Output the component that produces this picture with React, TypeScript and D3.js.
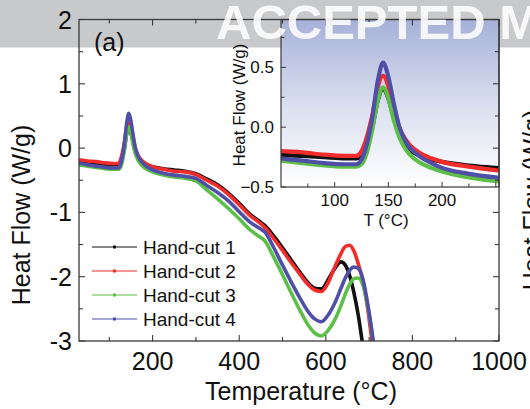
import * as d3 from "d3";

const temps = [30, 50, 70, 90, 110, 120, 125, 130, 135, 140, 145, 150, 155, 160, 165, 170, 180, 190, 200, 225, 250, 275, 300, 325, 350, 375, 400, 425, 445, 460, 480, 500, 520, 540, 560, 575, 590, 605, 620, 635, 645, 655, 665, 675, 685, 695, 705, 715];

const handCut1 = [-0.21, -0.23, -0.24, -0.25, -0.26, -0.26, -0.24, -0.15, 0.0, 0.22,
  0.32, 0.24, 0.08, -0.06, -0.14, -0.19, -0.24, -0.27, -0.29, -0.32,
  -0.34, -0.36, -0.40, -0.48, -0.57, -0.70, -0.86, -1.03, -1.13, -1.21,
  -1.37, -1.55, -1.74, -1.93, -2.10, -2.18, -2.19, -2.05, -1.88, -1.77,
  -1.82, -1.98, -2.25, -2.60, -3.05, -3.5, -3.6, -3.7];
const handCut2 = [-0.18, -0.20, -0.21, -0.23, -0.24, -0.24, -0.20, -0.08, 0.10, 0.33,
  0.43, 0.34, 0.16, 0.0, -0.09, -0.15, -0.22, -0.26, -0.29, -0.33,
  -0.36, -0.37, -0.41, -0.50, -0.59, -0.72, -0.88, -1.05, -1.15, -1.24,
  -1.41, -1.59, -1.78, -1.96, -2.13, -2.21, -2.23, -2.10, -1.86, -1.64,
  -1.53, -1.51, -1.60, -1.80, -2.05, -2.42, -2.92, -3.5];
const handCut3 = [-0.26, -0.28, -0.30, -0.32, -0.33, -0.33, -0.31, -0.21, -0.02, 0.22,
  0.33, 0.24, 0.06, -0.08, -0.17, -0.23, -0.30, -0.34, -0.37, -0.42,
  -0.45, -0.47, -0.51, -0.65, -0.79, -0.94, -1.10, -1.27, -1.37, -1.45,
  -1.70, -1.97, -2.25, -2.52, -2.76, -2.88, -2.92, -2.84, -2.68, -2.45,
  -2.27, -2.12, -2.03, -2.02, -2.12, -2.40, -2.80, -3.3];
const handCut4 = [-0.23, -0.26, -0.28, -0.30, -0.31, -0.31, -0.27, -0.14, 0.08, 0.38,
  0.54, 0.42, 0.20, 0.01, -0.10, -0.17, -0.25, -0.30, -0.34, -0.39,
  -0.42, -0.44, -0.47, -0.58, -0.69, -0.82, -0.99, -1.15, -1.24, -1.31,
  -1.55, -1.82, -2.08, -2.33, -2.55, -2.66, -2.70, -2.60, -2.42, -2.18,
  -2.02, -1.90, -1.85, -1.87, -2.02, -2.35, -2.78, -3.3];

const seriesNames = ["Hand-cut 1", "Hand-cut 2", "Hand-cut 3", "Hand-cut 4"];
const seriesColors = ["#111111", "#f22b2b", "#5dbf48", "#4f4fa8"];
const seriesValues = [handCut1, handCut2, handCut3, handCut4];
const drawOrder = [0, 1, 2, 3];

const xTicks = [200, 400, 600, 800, 1000];
const yTicks = [-3, -2, -1, 0, 1, 2];
const insetXTicks = [100, 150, 200];
const insetYTicks = [-0.5, 0.0, 0.5];

const FONT = "'Liberation Sans', Arial, Helvetica, sans-serif";

export default function App() {
  const x = d3.scaleLinear().domain([30, 1000]).range([79, 499]);
  const y = d3.scaleLinear().domain([-3, 2]).range([341, 19.5]);
  const ix = d3.scaleLinear().domain([50, 253]).range([281, 499]);
  const iy = d3.scaleLinear().domain([-0.5, 0.9]).range([187, 19.5]);

  const [x0, x1] = x.range();
  const [y0, y1] = y.range();
  const [ix0, ix1] = ix.range();
  const [iy0, iy1] = iy.range();

  const rows = (vals: number[]) => temps.map((t, i) => [t, vals[i]] as [number, number]);

  const line = d3.line<[number, number]>()
    .x(d => x(d[0]))
    .y(d => y(d[1]))
    .curve(d3.curveMonotoneX);
  const insetLine = d3.line<[number, number]>()
    .x(d => ix(d[0]))
    .y(d => iy(d[1]))
    .curve(d3.curveMonotoneX);

  const xMinor = d3.range(100, 1001, 100);
  const yMinor = d3.range(-3, 2.01, 0.5);
  const ixMinor = d3.range(75, 251, 25);
  const iyMinor = d3.range(-0.5, 0.91, 0.25);
  const axisColor = "#3a3a3a";

  return (
    <svg width={530} height={409} style={{ position: "absolute", left: 0, top: 0, background: "#fff" }}>
      <defs>
        <clipPath id="mainClip">
          <rect x={x0} y={y1} width={x1 - x0} height={y0 - y1} />
        </clipPath>
        <clipPath id="insetClip">
          <rect x={ix0} y={iy1} width={ix1 - ix0} height={iy0 - iy1} />
        </clipPath>
        <linearGradient id="insetBg" x1="0" y1="0" x2="0" y2="1">
          <stop offset="0" stopColor="#a6b1d9" />
          <stop offset="0.55" stopColor="#dde2f1" />
          <stop offset="1" stopColor="#ffffff" />
        </linearGradient>
      </defs>

      {/* watermark band */}
      <rect x={0} y={0} width={530} height={47.5} fill="#c8c9cb" />

      {/* main curves */}
      <g clipPath="url(#mainClip)">
        {drawOrder.map(i => (
          <path key={i} d={line(rows(seriesValues[i])) || ""} fill="none"
            stroke={seriesColors[i]} strokeWidth={3.6} strokeLinejoin="round" />
        ))}
      </g>

      {/* legend */}
      {seriesNames.map((name, i) => {
        const ly = 247 + i * 24;
        return (
          <g key={name}>
            <line x1={92} x2={137} y1={ly} y2={ly} stroke={seriesColors[i]} strokeWidth={1.2} />
            <rect x={113} y={ly - 1.5} width={3} height={3} fill={seriesColors[i]} />
            <text x={143} y={ly + 7} fontSize={19} fontFamily={FONT} fill="#111">{name}</text>
          </g>
        );
      })}

      <text x={94} y={51} fontSize={25} fontFamily={FONT} fill="#111">(a)</text>

      {/* inset */}
      <rect x={ix0} y={iy1} width={ix1 - ix0} height={iy0 - iy1} fill="url(#insetBg)" />
      <g clipPath="url(#insetClip)">
        {drawOrder.map(i => (
          <path key={i} d={insetLine(rows(seriesValues[i])) || ""} fill="none"
            stroke={seriesColors[i]} strokeWidth={4.2} strokeLinejoin="round" />
        ))}
      </g>
      <rect x={ix0} y={iy1} width={ix1 - ix0} height={iy0 - iy1} fill="none" stroke={axisColor} strokeWidth={1.2} />
      {iyMinor.map(v => (
        <line key={"iy" + v} x1={ix0} x2={ix0 + (Math.abs(v * 2 - Math.round(v * 2)) < 1e-6 ? 5 : 3.5)}
          y1={iy(v)} y2={iy(v)} stroke={axisColor} strokeWidth={1} />
      ))}
      {ixMinor.map(v => (
        <line key={"ix" + v} x1={ix(v)} x2={ix(v)} y1={iy0}
          y2={iy0 - (v % 50 === 0 ? 5 : 3.5)} stroke={axisColor} strokeWidth={1} />
      ))}
      {insetYTicks.map(v => (
        <text key={"iyl" + v} x={ix0 - 7} y={iy(v)} dy="0.36em" textAnchor="end"
          fontSize={17} fontFamily={FONT} fill="#111">{d3.format(".1f")(v)}</text>
      ))}
      {insetXTicks.map(v => (
        <text key={"ixl" + v} x={ix(v)} y={206} textAnchor="middle"
          fontSize={17} fontFamily={FONT} fill="#111">{v}</text>
      ))}
      <text x={386} y={226} textAnchor="middle" fontSize={17} fontFamily={FONT} fill="#111">T (°C)</text>
      <text transform={`translate(245,105) rotate(-90)`} textAnchor="middle"
        fontSize={17} fontFamily={FONT} fill="#111">Heat Flow (W/g)</text>

      {/* main frame and ticks */}
      <rect x={x0} y={y1} width={x1 - x0} height={y0 - y1} fill="none" stroke={axisColor} strokeWidth={1.3} />
      {xMinor.map(v => {
        const len = v % 200 === 0 ? 6 : 4;
        return (
          <g key={"xm" + v}>
            <line x1={x(v)} x2={x(v)} y1={y0} y2={y0 - len} stroke={axisColor} strokeWidth={1.1} />
            <line x1={x(v)} x2={x(v)} y1={y1} y2={y1 + len} stroke={axisColor} strokeWidth={1.1} />
          </g>
        );
      })}
      {yMinor.map(v => {
        const len = Math.abs(v - Math.round(v)) < 1e-6 ? 6 : 4;
        return (
          <g key={"ym" + v}>
            <line x1={x0} x2={x0 + len} y1={y(v)} y2={y(v)} stroke={axisColor} strokeWidth={1.1} />
            <line x1={x1} x2={x1 - len} y1={y(v)} y2={y(v)} stroke={axisColor} strokeWidth={1.1} />
          </g>
        );
      })}
      {xTicks.map(v => (
        <text key={"xl" + v} x={x(v)} y={370} textAnchor="middle" fontSize={25} fontFamily={FONT} fill="#111">{v}</text>
      ))}
      {yTicks.map(v => (
        <text key={"yl" + v} x={72} y={y(v)} dy="0.36em" textAnchor="end" fontSize={25} fontFamily={FONT} fill="#111">{v}</text>
      ))}
      <text x={301} y={400} textAnchor="middle" fontSize={25} fontFamily={FONT} fill="#111">Temperature (°C)</text>
      <text transform={`translate(30,215) rotate(-90)`} textAnchor="middle" fontSize={25} fontFamily={FONT} fill="#111">Heat Flow (W/g)</text>

      {/* neighbouring panel's axis title, cut at the edge */}
      <text transform={`translate(541,200) rotate(-90)`} textAnchor="middle" fontSize={25} fontFamily={FONT} fill="#111">Heat Flow (W/g)</text>

      {/* watermark text */}
      <text x={216} y={39} fontSize={49} fontWeight="bold" fontFamily={FONT} fill="#ffffff" opacity={0.88}>ACCEPTED M</text>
    </svg>
  );
}
